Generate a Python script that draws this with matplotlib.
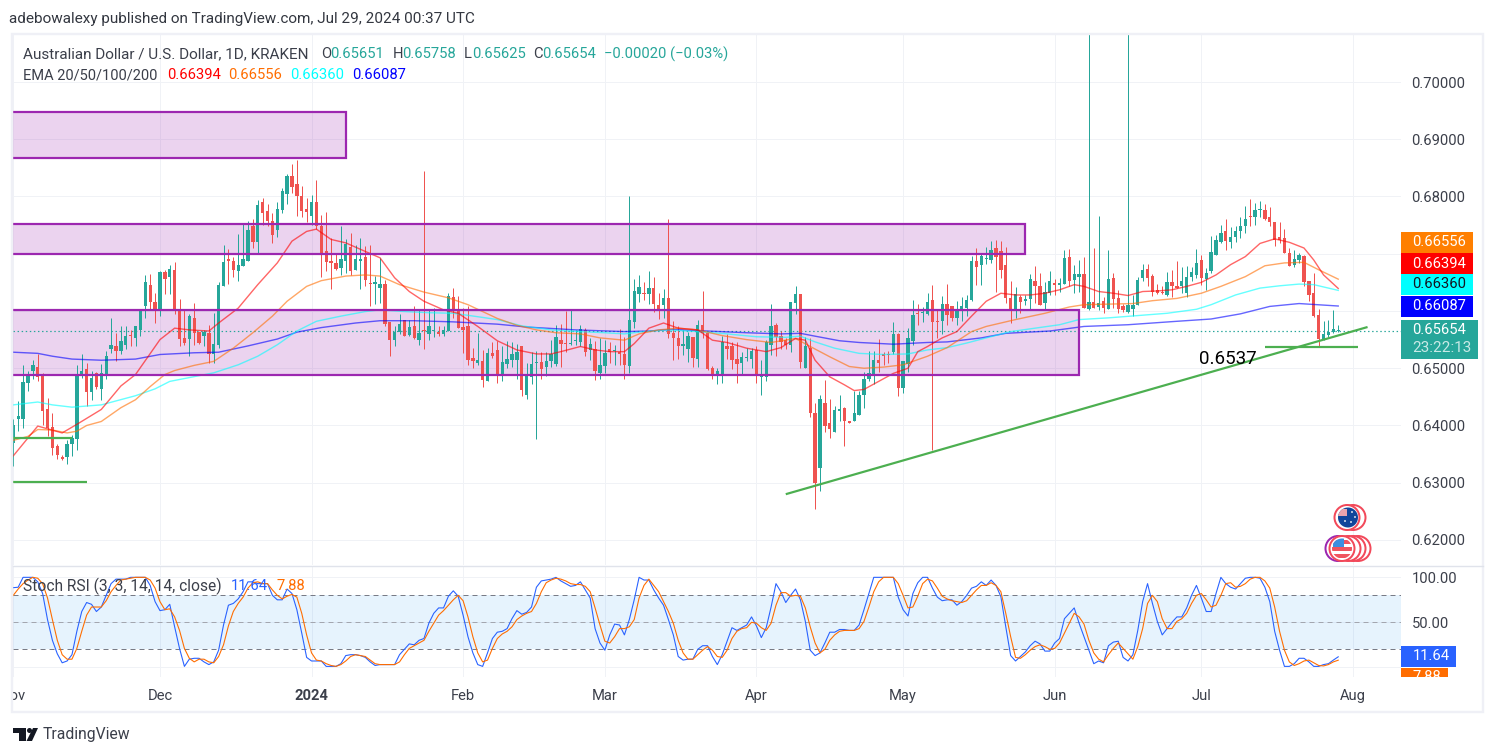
import matplotlib
matplotlib.use('Agg')
import matplotlib.pyplot as plt
from matplotlib.patches import Rectangle, Circle, Polygon
import numpy as np

plt.rcParams['font.family'] = ['Roboto', 'DejaVu Sans']

# candles, one per calendar day from 1 Nov 2023, prices in pips (1e-4)
opens = [
    6370, 6411, 6412, 6475, 6495, 6503, 6489, 6429, 6397, 6364,
    6345, 6345, 6367, 6377, 6488, 6498, 6458, 6491, 6463, 6489,
    6534, 6539, 6530, 6541, 6558, 6552, 6567, 6608, 6646, 6615,
    6601, 6668, 6659, 6672, 6602, 6553, 6551, 6588, 6563, 6556,
    6562, 6524, 6541, 6643, 6691, 6688, 6670, 6679, 6687, 6748,
    6720, 6791, 6774, 6758, 6742, 6777, 6805, 6836, 6822, 6800,
    6779, 6766, 6791, 6749, 6704, 6688, 6683, 6675, 6687, 6711,
    6672, 6687, 6694, 6648, 6647, 6641, 6648, 6580, 6550, 6563,
    6584, 6558, 6574, 6550, 6566, 6559, 6565, 6564, 6560, 6565,
    6624, 6602, 6572, 6574, 6518, 6509, 6513, 6477, 6527, 6531,
    6486, 6507, 6514, 6514, 6538, 6453, 6485, 6510, 6511, 6503,
    6513, 6507, 6550, 6544, 6543, 6547, 6546, 6567, 6532, 6533,
    6492, 6504, 6533, 6530, 6529, 6525, 6504, 6581, 6630, 6631,
    6630, 6640, 6610, 6610, 6622, 6562, 6553, 6539, 6534, 6555,
    6516, 6575, 6562, 6500, 6487, 6487, 6539, 6539, 6516, 6510,
    6518, 6516, 6532, 6484, 6485, 6541, 6575, 6556, 6549, 6541,
    6614, 6630, 6501, 6536, 6421, 6326, 6440, 6404, 6389, 6426,
    6431, 6408, 6407, 6418, 6453, 6481, 6489, 6514, 6525, 6524,
    6528, 6560, 6466, 6507, 6548, 6597, 6596, 6594, 6619, 6582,
    6583, 6613, 6608, 6588, 6602, 6605, 6620, 6688, 6681, 6690,
    6689, 6710, 6704, 6681, 6622, 6602, 6624, 6617, 6621, 6652,
    6644, 6614, 6631, 6649, 6645, 6648, 6694, 6655, 6659, 6665,
    6604, 6616, 6607, 6617, 6603, 6658, 6623, 6608, 6598, 6604,
    6611, 6657, 6673, 6661, 6637, 6634, 6628, 6650, 6644, 6644,
    6631, 6659, 6662, 6689, 6656, 6670, 6698, 6721, 6739, 6720,
    6729, 6739, 6749, 6766, 6765, 6777, 6777, 6764, 6755, 6729,
    6727, 6701, 6681, 6689, 6696, 6652, 6631, 6593, 6551, 6558,
    6563, 6565.1,
]
highs = [
    6411, 6442, 6506, 6496, 6515, 6524, 6492, 6448, 6422, 6367,
    6349, 6375, 6384, 6506, 6524, 6509, 6495, 6493, 6508, 6530,
    6588, 6562, 6573, 6574, 6567, 6574, 6602, 6663, 6665, 6631,
    6669, 6672, 6681, 6686, 6621, 6601, 6594, 6614, 6563, 6567,
    6576, 6597, 6651, 6716, 6709, 6695, 6735, 6752, 6757, 6761,
    6794, 6797, 6787, 6771, 6791, 6815, 6840, 6857, 6864, 6819,
    6798, 6803, 6828, 6768, 6773, 6727, 6701, 6748, 6725, 6736,
    6716, 6728, 6713, 6716, 6661, 6693, 6655, 6580, 6574, 6594,
    6585, 6585, 6609, 6601, 6844, 6602, 6605, 6573, 6574, 6631,
    6640, 6626, 6605, 6609, 6535, 6562, 6532, 6535, 6546, 6547,
    6539, 6547, 6545, 6543, 6538, 6510, 6528, 6530, 6528, 6529,
    6550, 6575, 6578, 6600, 6602, 6567, 6575, 6570, 6552, 6547,
    6552, 6549, 6546, 6541, 6568, 6555, 6801, 6656, 6663, 6651,
    6670, 6660, 6631, 6639, 6760, 6582, 6573, 6567, 6564, 6555,
    6584, 6635, 6562, 6504, 6500, 6556, 6560, 6546, 6545, 6528,
    6536, 6536, 6538, 6514, 6550, 6612, 6579, 6565, 6553, 6615,
    6644, 6630, 6555, 6553, 6440, 6454, 6479, 6447, 6434, 6453,
    6433, 6408, 6461, 6461, 6494, 6530, 6530, 6551, 6529, 6530,
    6580, 6561, 6513, 6570, 6619, 6612, 6607, 6632, 6645, 6602,
    6627, 6648, 6609, 6617, 6625, 6628, 6696, 6710, 6699, 6711,
    6723, 6724, 6723, 6711, 6652, 6642, 6628, 6628, 6664, 6679,
    6666, 6650, 6670, 6656, 6657, 6707, 6708, 6681, 6689, 6695,
    7084, 6710, 6766, 6625, 6707, 6667, 6637, 6613, 7084, 6628,
    6659, 6682, 6682, 6665, 6648, 6643, 6668, 6671, 6688, 6677,
    6679, 6677, 6709, 6698, 6675, 6731, 6733, 6751, 6760, 6746,
    6748, 6765, 6783, 6796, 6789, 6792, 6787, 6781, 6755, 6755,
    6744, 6710, 6707, 6702, 6698, 6652, 6666, 6603, 6583, 6585,
    6602, 6575.8,
]
lows = [
    6329, 6390, 6396, 6460, 6481, 6477, 6400, 6381, 6349, 6342,
    6340, 6332, 6347, 6357, 6483, 6434, 6444, 6463, 6445, 6481,
    6527, 6512, 6524, 6534, 6538, 6539, 6556, 6588, 6602, 6579,
    6592, 6629, 6629, 6594, 6539, 6541, 6521, 6541, 6542, 6538,
    6509, 6509, 6535, 6643, 6648, 6659, 6652, 6678, 6687, 6710,
    6701, 6751, 6749, 6718, 6729, 6771, 6787, 6806, 6766, 6764,
    6755, 6751, 6743, 6659, 6669, 6639, 6672, 6662, 6666, 6662,
    6672, 6639, 6643, 6608, 6613, 6614, 6573, 6522, 6539, 6559,
    6557, 6557, 6551, 6541, 6533, 6549, 6555, 6556, 6556, 6565,
    6588, 6570, 6526, 6506, 6500, 6506, 6467, 6477, 6518, 6475,
    6477, 6500, 6503, 6481, 6451, 6446, 6472, 6376, 6481, 6486,
    6503, 6504, 6503, 6528, 6541, 6541, 6538, 6521, 6514, 6479,
    6481, 6491, 6510, 6506, 6506, 6481, 6492, 6571, 6616, 6619,
    6613, 6599, 6586, 6588, 6553, 6514, 6516, 6523, 6511, 6502,
    6502, 6552, 6497, 6481, 6472, 6475, 6517, 6499, 6475, 6488,
    6513, 6500, 6475, 6453, 6478, 6523, 6521, 6534, 6534, 6529,
    6595, 6501, 6501, 6415, 6254, 6286, 6389, 6379, 6389, 6407,
    6365, 6404, 6407, 6418, 6431, 6477, 6472, 6493, 6506, 6509,
    6525, 6452, 6457, 6494, 6541, 6575, 6581, 6593, 6357, 6552,
    6560, 6575, 6582, 6576, 6582, 6592, 6618, 6646, 6646, 6682,
    6684, 6634, 6657, 6614, 6579, 6588, 6597, 6611, 6602, 6614,
    6611, 6601, 6628, 6628, 6634, 6648, 6643, 6632, 6634, 6606,
    6601, 6605, 6602, 6597, 6603, 6605, 6596, 6599, 6597, 6591,
    6611, 6652, 6643, 6627, 6629, 6629, 6627, 6625, 6640, 6631,
    6624, 6652, 6657, 6646, 6636, 6666, 6698, 6718, 6707, 6710,
    6721, 6727, 6737, 6748, 6751, 6765, 6759, 6749, 6714, 6719,
    6701, 6678, 6677, 6684, 6644, 6617, 6590, 6538, 6550, 6555,
    6561, 6562.5,
]
closes = [
    6400, 6416, 6476, 6489, 6505, 6484, 6425, 6396, 6360, 6349,
    6342, 6368, 6378, 6489, 6496, 6458, 6483, 6468, 6492, 6521,
    6541, 6530, 6548, 6557, 6556, 6573, 6602, 6650, 6615, 6601,
    6668, 6656, 6674, 6602, 6551, 6544, 6592, 6562, 6544, 6563,
    6524, 6542, 6646, 6686, 6687, 6672, 6681, 6690, 6742, 6720,
    6786, 6771, 6757, 6733, 6779, 6809, 6836, 6816, 6800, 6775,
    6773, 6791, 6748, 6700, 6686, 6683, 6673, 6690, 6717, 6670,
    6690, 6691, 6655, 6647, 6650, 6648, 6578, 6550, 6563, 6578,
    6557, 6572, 6552, 6562, 6565, 6574, 6566, 6559, 6566, 6627,
    6602, 6570, 6566, 6514, 6513, 6514, 6480, 6526, 6522, 6489,
    6511, 6516, 6525, 6529, 6462, 6490, 6508, 6511, 6499, 6513,
    6524, 6554, 6543, 6543, 6544, 6549, 6568, 6529, 6543, 6495,
    6506, 6526, 6528, 6532, 6524, 6506, 6584, 6635, 6642, 6630,
    6640, 6613, 6602, 6622, 6560, 6553, 6539, 6542, 6556, 6518,
    6575, 6562, 6499, 6488, 6495, 6545, 6534, 6514, 6507, 6519,
    6520, 6530, 6488, 6490, 6546, 6574, 6555, 6546, 6541, 6615,
    6630, 6511, 6539, 6422, 6300, 6446, 6399, 6394, 6427, 6429,
    6407, 6405, 6421, 6453, 6482, 6491, 6514, 6510, 6522, 6523,
    6560, 6466, 6513, 6552, 6593, 6595, 6598, 6615, 6581, 6581,
    6613, 6593, 6588, 6603, 6609, 6620, 6688, 6676, 6696, 6692,
    6707, 6695, 6672, 6622, 6602, 6629, 6615, 6621, 6656, 6644,
    6611, 6633, 6652, 6645, 6649, 6692, 6653, 6665, 6665, 6606,
    6616, 6606, 6614, 6605, 6656, 6621, 6604, 6602, 6611, 6611,
    6654, 6672, 6657, 6634, 6631, 6631, 6650, 6643, 6641, 6653,
    6659, 6668, 6684, 6657, 6667, 6703, 6724, 6736, 6723, 6729,
    6740, 6748, 6760, 6765, 6777, 6778, 6761, 6755, 6724, 6724,
    6702, 6679, 6691, 6698, 6650, 6628, 6592, 6551, 6560, 6563,
    6569, 6565.4,
]

ema20_days = [0, 5, 10, 13, 18, 22, 25, 30, 33, 36, 40, 42, 46, 50, 54, 57, 60, 62, 65, 68, 72, 75, 78, 81, 84, 88, 91, 95, 99, 103, 107, 110, 112, 116, 119, 122, 125, 127, 130, 133, 136, 140, 143, 146, 150, 154, 157, 160, 162, 164, 167, 170, 172, 174, 177, 180, 183, 185, 187, 190, 193, 196, 199, 202, 205, 208, 211, 214, 217, 219, 222, 225, 228, 231, 234, 237, 240, 243, 246, 249, 252, 255, 258, 261, 264, 266, 268, 271]
ema20 = [6347, 6399, 6387, 6402, 6428, 6469, 6489, 6550, 6570, 6567, 6565, 6579, 6605, 6646, 6684, 6722, 6739, 6743, 6725, 6719, 6704, 6693, 6658, 6634, 6617, 6602, 6596, 6573, 6548, 6532, 6525, 6525, 6529, 6538, 6532, 6529, 6529, 6543, 6570, 6579, 6570, 6567, 6549, 6545, 6535, 6529, 6536, 6552, 6549, 6514, 6485, 6471, 6461, 6463, 6477, 6491, 6500, 6529, 6538, 6553, 6564, 6591, 6617, 6631, 6628, 6628, 6631, 6637, 6646, 6643, 6634, 6631, 6627, 6634, 6635, 6637, 6643, 6650, 6663, 6681, 6695, 6718, 6726, 6720, 6710, 6689, 6663, 6639.4]
ema50_days = [0, 3, 5, 8, 11, 13, 15, 18, 22, 25, 28, 31, 33, 37, 41, 45, 49, 53, 56, 60, 63, 68, 72, 75, 79, 84, 89, 93, 99, 103, 107, 111, 116, 120, 125, 128, 132, 136, 140, 145, 150, 155, 160, 163, 167, 171, 174, 178, 182, 187, 191, 196, 199, 205, 211, 216, 219, 224, 229, 233, 238, 243, 247, 252, 256, 260, 264, 267, 271]
ema50 = [6374, 6381, 6393, 6392, 6387, 6390, 6400, 6407, 6431, 6445, 6468, 6489, 6496, 6505, 6512, 6535, 6562, 6591, 6617, 6643, 6653, 6661, 6663, 6661, 6646, 6633, 6623, 6611, 6587, 6575, 6567, 6562, 6560, 6553, 6549, 6560, 6567, 6570, 6567, 6557, 6550, 6545, 6552, 6538, 6520, 6503, 6500, 6502, 6506, 6521, 6536, 6564, 6573, 6585, 6596, 6607, 6611, 6612, 6613, 6618, 6622, 6631, 6643, 6660, 6679, 6684, 6685, 6672, 6655.6]
ema100_days = [0, 5, 8, 12, 18, 25, 29, 32, 38, 41, 46, 50, 54, 58, 62, 67, 72, 75, 80, 85, 90, 95, 99, 104, 110, 116, 121, 125, 129, 134, 140, 146, 152, 158, 161, 164, 168, 173, 178, 183, 187, 191, 195, 199, 204, 209, 214, 218, 224, 230, 236, 242, 245, 250, 255, 259, 263, 266, 271]
ema100 = [6436, 6441, 6436, 6432, 6436, 6452, 6464, 6477, 6487, 6492, 6506, 6521, 6541, 6565, 6582, 6591, 6599, 6602, 6599, 6597, 6596, 6590, 6585, 6574, 6567, 6564, 6562, 6560, 6564, 6567, 6564, 6560, 6555, 6554, 6556, 6546, 6535, 6526, 6524, 6525, 6532, 6536, 6544, 6553, 6564, 6570, 6576, 6585, 6588, 6592, 6596, 6603, 6611, 6628, 6640, 6644, 6647, 6646, 6636]
ema200_days = [0, 5, 8, 12, 18, 25, 30, 37, 42, 48, 54, 58, 63, 70, 75, 82, 90, 99, 105, 115, 125, 130, 135, 142, 150, 157, 161, 164, 169, 173, 180, 187, 191, 198, 203, 212, 219, 228, 238, 245, 251, 257, 263, 271]
ema200 = [6528, 6526, 6521, 6516, 6514, 6516, 6524, 6527, 6528, 6539, 6551, 6563, 6571, 6579, 6583, 6583, 6581, 6577, 6572, 6567, 6564, 6565, 6568, 6565, 6562, 6560, 6561, 6556, 6548, 6545, 6542, 6545, 6546, 6553, 6561, 6565, 6573, 6576, 6582, 6586, 6595, 6608, 6613, 6608.7]

# stoch rsi, one value per candle
stoch_k = [
    88.5, 89, 100, 100, 100, 95, 82, 53, 30, 15,
    5, 7, 14, 40, 62, 72, 70, 62, 67, 80,
    93, 98, 98, 98, 100, 100, 100, 100, 91, 73,
    63, 64, 70, 45, 21, 1, 9, 10, 10, 6,
    3, 6, 19, 47, 69, 71, 76, 84, 95, 95,
    93, 93, 93, 80, 75, 75, 87, 82, 64, 38,
    11, 7, 7, 7, 1, 1, 1, 4, 13, 14,
    14, 13, 11, 6, 2, 3, 3, 3, 3, 14,
    20, 26, 25, 30, 32, 49, 60, 66, 66, 79,
    85, 79, 58, 34, 16, 3, 1, 16, 32, 39,
    40, 43, 54, 63, 59, 61, 67, 89, 96, 97,
    98, 100, 96, 93, 90, 91, 95, 86, 77, 43,
    27, 19, 36, 48, 47, 36, 53, 75, 100, 97,
    97, 86, 77, 69, 53, 36, 12, 8, 9, 9,
    20, 24, 24, 12, 3, 14, 29, 44, 41, 44,
    47, 56, 46, 33, 44, 67, 93, 84, 72, 80,
    87, 75, 51, 19, 13, 16, 27, 39, 39, 42,
    42, 41, 41, 47, 64, 82, 100, 100, 100, 100,
    100, 78, 64, 57, 82, 94, 100, 100, 88, 78,
    74, 75, 75, 69, 73, 80, 88, 90, 95, 91,
    97, 91, 78.5, 45, 13, 7, 12, 17, 24, 29,
    26, 18, 18, 27, 32, 54, 60, 66, 49, 34,
    19, 4, 7, 5, 24, 28, 29, 11, 7, 14,
    41, 73, 93, 71, 51, 36, 43, 50, 56, 56,
    66, 80, 91, 77, 62, 62, 82, 100, 93, 89,
    87, 93, 99, 100, 100, 99, 89, 73, 40, 19,
    1, 1, 4, 10, 10, 6, 1, 1, 3, 4,
    8, 11.64,
]
stoch_d = [
    80, 87, 93, 97, 100, 99, 93, 77, 53, 30,
    14, 9, 9, 21, 40, 58, 67, 67, 67, 74,
    84, 91, 97, 98, 99, 100, 100, 100, 97, 88,
    73, 64, 65, 56, 41, 21, 10, 6, 9, 9,
    6, 5, 12, 25, 46, 62, 71, 78, 88, 94,
    95, 93, 93, 86, 80, 76, 79, 81, 78, 60,
    36, 16, 8, 7, 4, 2, 1, 3, 7, 12,
    14, 13, 12, 8, 4, 3, 3, 3, 3, 6,
    14, 21, 24, 27, 30, 40, 49, 58, 63, 69,
    75, 80, 74, 56, 34, 16, 6, 8, 21, 32,
    37, 40, 45, 53, 57, 60, 62, 71, 84, 94,
    97, 99, 98, 96, 93, 92, 92, 90, 84, 66,
    47, 29, 27, 34, 43, 43, 45, 53, 77, 91,
    98, 91, 84, 73, 62, 49, 30, 16, 9, 9,
    14, 19, 23, 19, 12, 11, 19, 32, 40, 43,
    44, 50, 49, 44, 41, 49, 69, 83, 83, 79,
    80, 79, 66, 45, 27, 16, 20, 30, 36, 40,
    41, 41, 41, 43, 51, 67, 84, 95, 100, 100,
    100, 93, 80, 66, 67, 79, 93, 98, 96, 88,
    79, 76, 74, 73, 72, 74, 80, 86, 91, 91,
    94, 91, 84, 60, 34, 11, 10, 14, 19, 23,
    25, 23, 20, 21, 27, 38, 49, 60, 56, 48,
    30, 16, 9, 6, 14, 21, 27, 21, 15, 9,
    23, 43, 71, 80, 73, 54, 43, 43, 51, 54,
    60, 71, 80, 82, 75, 67, 69, 80, 93, 94,
    89, 90, 93, 98, 100, 100, 96, 88, 67, 40,
    19, 6, 2, 4, 7, 8, 5, 2, 1.5, 3,
    6, 7.88,
]

# drawings: (start day, end day, bottom price, top price)
zones = [(-10, 68, 0.6867, 0.6948), (-10, 207, 0.6700, 0.6752), (-10, 218, 0.6488, 0.6602)]
# (day, price, day, price)
trend_lines = [(158, 0.6280, 277, 0.6572), (256, 0.6537, 275, 0.6537), (-10, 0.6379, 12, 0.6379), (-10, 0.6301, 15, 0.6301)]

price_ticks = [0.70, 0.69, 0.68, 0.67, 0.66, 0.65, 0.64, 0.63, 0.62]
# the scale hides these two behind the EMA tags
hidden_ticks = [0.67, 0.66]
month_days = [0, 30, 61, 92, 121, 152, 182, 213, 243, 274]
month_labels = ['Nov', 'Dec', '2024', 'Feb', 'Mar', 'Apr', 'May', 'Jun', 'Jul', 'Aug']
last_price = 0.65654

W, H = 1496, 756
UP, DOWN = '#26a69a', '#ef5350'
GRID = '#f0f2f6'
TEXT = '#3b3f4a'
PX = 0.72  # one pixel in points
NUM_SIZE = 10.6
WORD_SIZE = 11


def pane(y_top, y_bottom):
    return fig.add_axes([13 / W, 1 - y_bottom / H, (1401 - 13) / W, (y_bottom - y_top) / H])


fig = plt.figure(figsize=(W / 100, H / 100), dpi=100, facecolor='white')
ax = pane(35, 565)
ax2 = pane(566, 677)

days = np.arange(len(opens))
o, h, l, c = [np.array(v) / 10000 for v in (opens, highs, lows, closes)]
colors = np.where(c >= o, UP, DOWN)

for a in (ax, ax2):
    a.set_xlim(-0.06, 283.84)
    a.set_xticks(month_days)
    a.grid(True, color=GRID, lw=PX)
    a.set_axisbelow(True)
    a.yaxis.tick_right()
    a.tick_params(length=0, labelsize=NUM_SIZE, labelcolor=TEXT)
    for s in a.spines.values():
        s.set_visible(False)

ax.set_ylim(0.61563, 0.70821)
ax.set_yticks(price_ticks)
ax.set_yticklabels(['' if t in hidden_ticks else '%.5f' % t for t in price_ticks])
ax.tick_params(axis='y', pad=7.5)
ax.tick_params(axis='x', labelbottom=False)

for x0, x1, p0, p1 in zones:
    ax.add_patch(Rectangle((x0, p0), x1 - x0, p1 - p0, facecolor='#9c27b0', alpha=0.2, edgecolor='none', zorder=1))
    ax.add_patch(Rectangle((x0, p0), x1 - x0, p1 - p0, fill=False, edgecolor='#9c27b0', lw=2.2 * PX, zorder=5))

ax.axhline(last_price, color=UP, lw=1.2 * PX, ls=(0, (1.2, 2.2)), zorder=2)

ax.vlines(days, l, h, colors=colors, lw=PX, zorder=3)
bottoms = np.minimum(o, c)
heights = np.maximum(np.abs(c - o), 0.00012)
ax.bar(days, heights, bottom=bottoms, width=0.68, color=colors, lw=0, zorder=3)

ax.plot(ema200_days, np.array(ema200) / 10000, color='#0000ff', alpha=0.6, lw=1.4 * PX, zorder=4)
ax.plot(ema100_days, np.array(ema100) / 10000, color='#00ffff', alpha=0.6, lw=1.4 * PX, zorder=4)
ax.plot(ema50_days, np.array(ema50) / 10000, color='#ff6d00', alpha=0.6, lw=1.4 * PX, zorder=4)
ax.plot(ema20_days, np.array(ema20) / 10000, color='#ff0000', alpha=0.6, lw=1.4 * PX, zorder=4)

for x0, p0, x1, p1 in trend_lines:
    ax.plot([x0, x1], [p0, p1], color='#4caf50', lw=2.2 * PX, zorder=6, solid_capstyle='butt')
# the note sits under its level, on the rising line
ax.text(248.4, 0.6516, '0.6537', fontsize=13.5, color='#000000', va='center', ha='center', zorder=7)

# stoch pane
ax2.set_ylim(-10.8, 112.6)
ax2.set_yticks([100, 50, 0])
ax2.set_yticklabels(['100.00', '50.00', ''])
ax2.tick_params(axis='y', pad=7.5)
ax2.set_xticklabels(month_labels)
ax2.get_xticklabels()[2].set_fontweight('bold')
ax2.tick_params(axis='x', pad=8.5)
ax2.axhspan(20, 80, color='#2196f3', alpha=0.11, lw=0, zorder=1)
ax2.axhline(80, color='#787b86', lw=PX, ls=(0, (5, 4)), zorder=2)
ax2.axhline(50, color='#a3a6af', lw=PX, ls=(0, (5, 4)), zorder=2)
ax2.axhline(20, color='#787b86', lw=PX, ls=(0, (5, 4)), zorder=2)
ax2.plot(days, stoch_k, color='#2962ff', lw=1.1 * PX, zorder=3)
ax2.plot(days, stoch_d, color='#ff6d00', lw=1.1 * PX, zorder=3)

# overlay in pixels for the chrome: frame, legends, tags, flags, logo
ov = fig.add_axes([0, 0, 1, 1], zorder=10)
ov.set_xlim(0, W)
ov.set_ylim(H, 0)
ov.axis('off')

ov.add_patch(Rectangle((0, 680), 12, 25, color='white', lw=0))
ov.add_patch(Rectangle((12.5, 34), 1471, 678, fill=False, edgecolor='#eff0f6', lw=2.4 * PX))
ov.plot([13, 1483], [565.5, 565.5], color='#e0e3eb', lw=1.4 * PX)

ov.text(9, 19.5, 'adebowalexy published on TradingView.com, Jul 29, 2024 00:37 UTC', fontsize=WORD_SIZE, color='#333740', va='center')


def label_row(y, parts):
    for x, s, col, size in parts:
        ov.text(x, y, s, fontsize=size, color=col, va='center')


label_row(54, [
    (23, 'Australian Dollar / U.S. Dollar, 1D, KRAKEN', TEXT, WORD_SIZE),
    (321, 'O', TEXT, NUM_SIZE), (330.5, '0.65651', UP, NUM_SIZE),
    (393, 'H', TEXT, NUM_SIZE), (402, '0.65758', UP, NUM_SIZE),
    (464, 'L', TEXT, NUM_SIZE), (472.5, '0.65625', UP, NUM_SIZE),
    (533, 'C', TEXT, NUM_SIZE), (542.5, '0.65654', UP, NUM_SIZE),
    (604, '\u22120.00020 (\u22120.03%)', UP, NUM_SIZE),
])
label_row(75, [
    (23, 'EMA 20/50/100/200', TEXT, 10.5),
    (167, '0.66394', '#ff0000', NUM_SIZE), (228, '0.66556', '#ff6d00', NUM_SIZE),
    (290, '0.66360', '#00ffff', NUM_SIZE), (352, '0.66087', '#0000ff', NUM_SIZE),
])
label_row(586, [
    (23, 'Stoch RSI (3, 3, 14, 14, close)', TEXT, 11.2),
    (231, '11.64', '#2962ff', NUM_SIZE), (277, '7.88', '#ff6d00', NUM_SIZE),
])


def tag(y0, y1, x1, color, s, text_color):
    ov.add_patch(Rectangle((1401, y0), x1 - 1401, y1 - y0, color=color, lw=0))
    return ov.text(1412.5, (y0 + y1) / 2, s, fontsize=NUM_SIZE, color=text_color, va='center')


tag(232, 253, 1473, '#ff7f00', '0.66556', 'white')
tag(253, 274, 1473, '#ff0000', '0.66394', 'white')
tag(274, 295, 1473, '#00ffff', '0.66360', '#131722')
tag(296, 317, 1473, '#0000ff', '0.66087', 'white')
ov.add_patch(Rectangle((1401, 320), 77, 39, color=UP, lw=0))
ov.text(1412.5, 330.5, '0.65654', fontsize=NUM_SIZE, color='white', va='center')
ov.text(1412.5, 348, '23:22:13', fontsize=11, color='#c8e9e6', va='center')
tag(646, 667, 1456, '#2962ff', '11.64', 'white')
clip = Rectangle((1401, 668), 47, 9, color='#ff6d00', lw=0)
ov.add_patch(clip)
ov.text(1412.5, 677, '7.88', fontsize=NUM_SIZE, color='white', va='center', clip_on=True).set_clip_path(clip)

# event flags
for cx in (1353, 1347):
    ov.add_patch(Circle((cx, 517.5), 12.5, facecolor='white', edgecolor='#f2495a', lw=2 * PX))
ov.add_patch(Circle((1348, 517.5), 10, facecolor='#10459b', edgecolor='none'))
ov.add_patch(Rectangle((1338, 509), 9, 7, color='#e9a3ad', lw=0, clip_path=Circle((1348, 517.5), 10, transform=ov.transData)))
for sx, sy in [(1352, 512), (1355, 517), (1351, 522), (1345, 521)]:
    ov.add_patch(Circle((sx, sy), 0.9, color='white', lw=0))
ov.add_patch(Circle((1338, 548.5), 12.5, facecolor='white', edgecolor='#9c27b0', lw=2 * PX))
for cx in (1358, 1353, 1348, 1342):
    ov.add_patch(Circle((cx, 548.5), 12.5, facecolor='white', edgecolor='#f2495a', lw=2 * PX))
flag = Circle((1342, 548.5), 10, transform=ov.transData)
for sy in (540, 547, 554):
    ov.add_patch(Rectangle((1330, sy), 24, 3.5, color='#f0545f', lw=0, clip_path=flag))
ov.add_patch(Rectangle((1333, 538), 11, 9, color='#3d8fe0', lw=0, clip_path=flag))

# logo
ov.add_patch(Polygon([(13, 728), (26, 728), (26, 741), (19, 741), (19, 733), (13, 733)], color='#131722', lw=0))
ov.add_patch(Circle((29.5, 730.5), 2.5, color='#131722', lw=0))
ov.add_patch(Polygon([(33, 728), (38, 728), (32, 741), (26.5, 741)], color='#131722', lw=0))
ov.text(43, 735, 'TradingView', fontsize=11.3, color='#3b3f4a', va='center')

fig.savefig('out.png', dpi=100)
